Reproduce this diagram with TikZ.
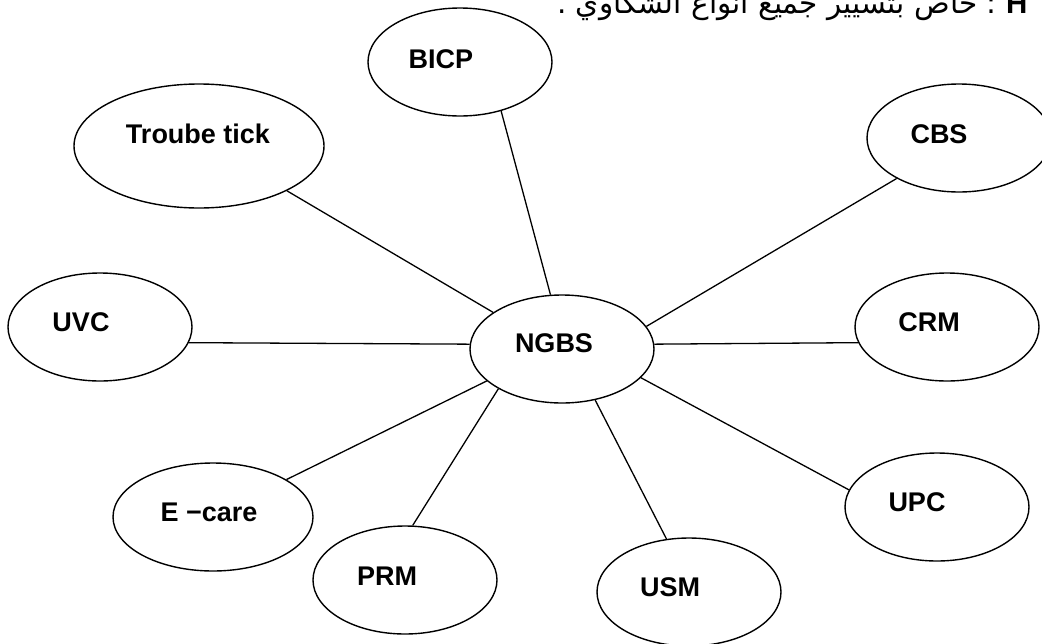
\documentclass[tikz,border=0pt]{standalone}
\usepackage{fontspec}
\usetikzlibrary{shapes.geometric}
\setmainfont{Liberation Sans}
\newfontfamily\arabicfont[Script=Arabic]{DejaVu Sans}
\TeXXeTstate=1
\begin{document}
\begin{tikzpicture}[x=1pt,y=-1pt,
  bulle/.style={draw,ellipse,line width=1.4pt,minimum width=184pt,minimum height=108pt,inner sep=0pt},
  nom/.style={font=\fontsize{27}{30}\selectfont\bfseries,inner sep=0pt},
  lien/.style={line width=1.3pt}]
\useasboundingbox (0,0) rectangle (1042,643);
\clip (0,0) rectangle (1042,643);
\node[font=\arabicfont\fontsize{29.5}{32}\selectfont,anchor=base west,inner sep=0pt] (titre) at (557,13)
  {\beginR{\rmfamily\bfseries H} : خاص بتسيير جميع انواع الشكاوي .\endR};
% centre
\node[bulle] (ngbs) at (562,349) {};
\node[nom] (ngbs-t) at (554,343) {NGBS};
% autour
\node[bulle,minimum width=250pt,minimum height=124pt] (troube) at (199,146) {};
\node[nom] (troube-t) at (198,134) {Troube tick};
\node[bulle] (bicp) at (460,62) {};
\node[nom] (bicp-t) at (441,59) {BICP};
\node[bulle] (cbs) at (959,138) {};
\node[nom] (cbs-t) at (939,134) {CBS};
\node[bulle] (uvc) at (100,327) {};
\node[nom] (uvc-t) at (81,322) {UVC};
\node[bulle] (crm) at (947,327) {};
\node[nom] (crm-t) at (929,322) {CRM};
\node[bulle,minimum width=200pt] (ecare) at (213,517) {};
\node[nom] (ecare-t) at (209,512) {E −care};
\node[bulle] (prm) at (405,580) {};
\node[nom] (prm-t) at (387,576) {PRM};
\node[bulle] (usm) at (689,592) {};
\node[nom] (usm-t) at (670,587) {USM};
\node[bulle] (upc) at (937,507) {};
\node[nom] (upc-t) at (917,502) {UPC};
% liens
\draw[lien] (ngbs.152) -- (troube.-27);
\draw[lien] (ngbs.102) -- (bicp.-50);
\draw[lien] (ngbs.15) -- (cbs.213);
\draw[lien] (ngbs.177) -- (uvc.-10);
\draw[lien] (ngbs.3) -- (crm.190);
\draw[lien] (ngbs.203) -- (ecare.27);
\draw[lien] (ngbs.212) -- (prm.82);
\draw[lien] (ngbs.303) -- (usm.113);
\draw[lien] (ngbs.340) -- (upc.169);
\end{tikzpicture}
\end{document}
